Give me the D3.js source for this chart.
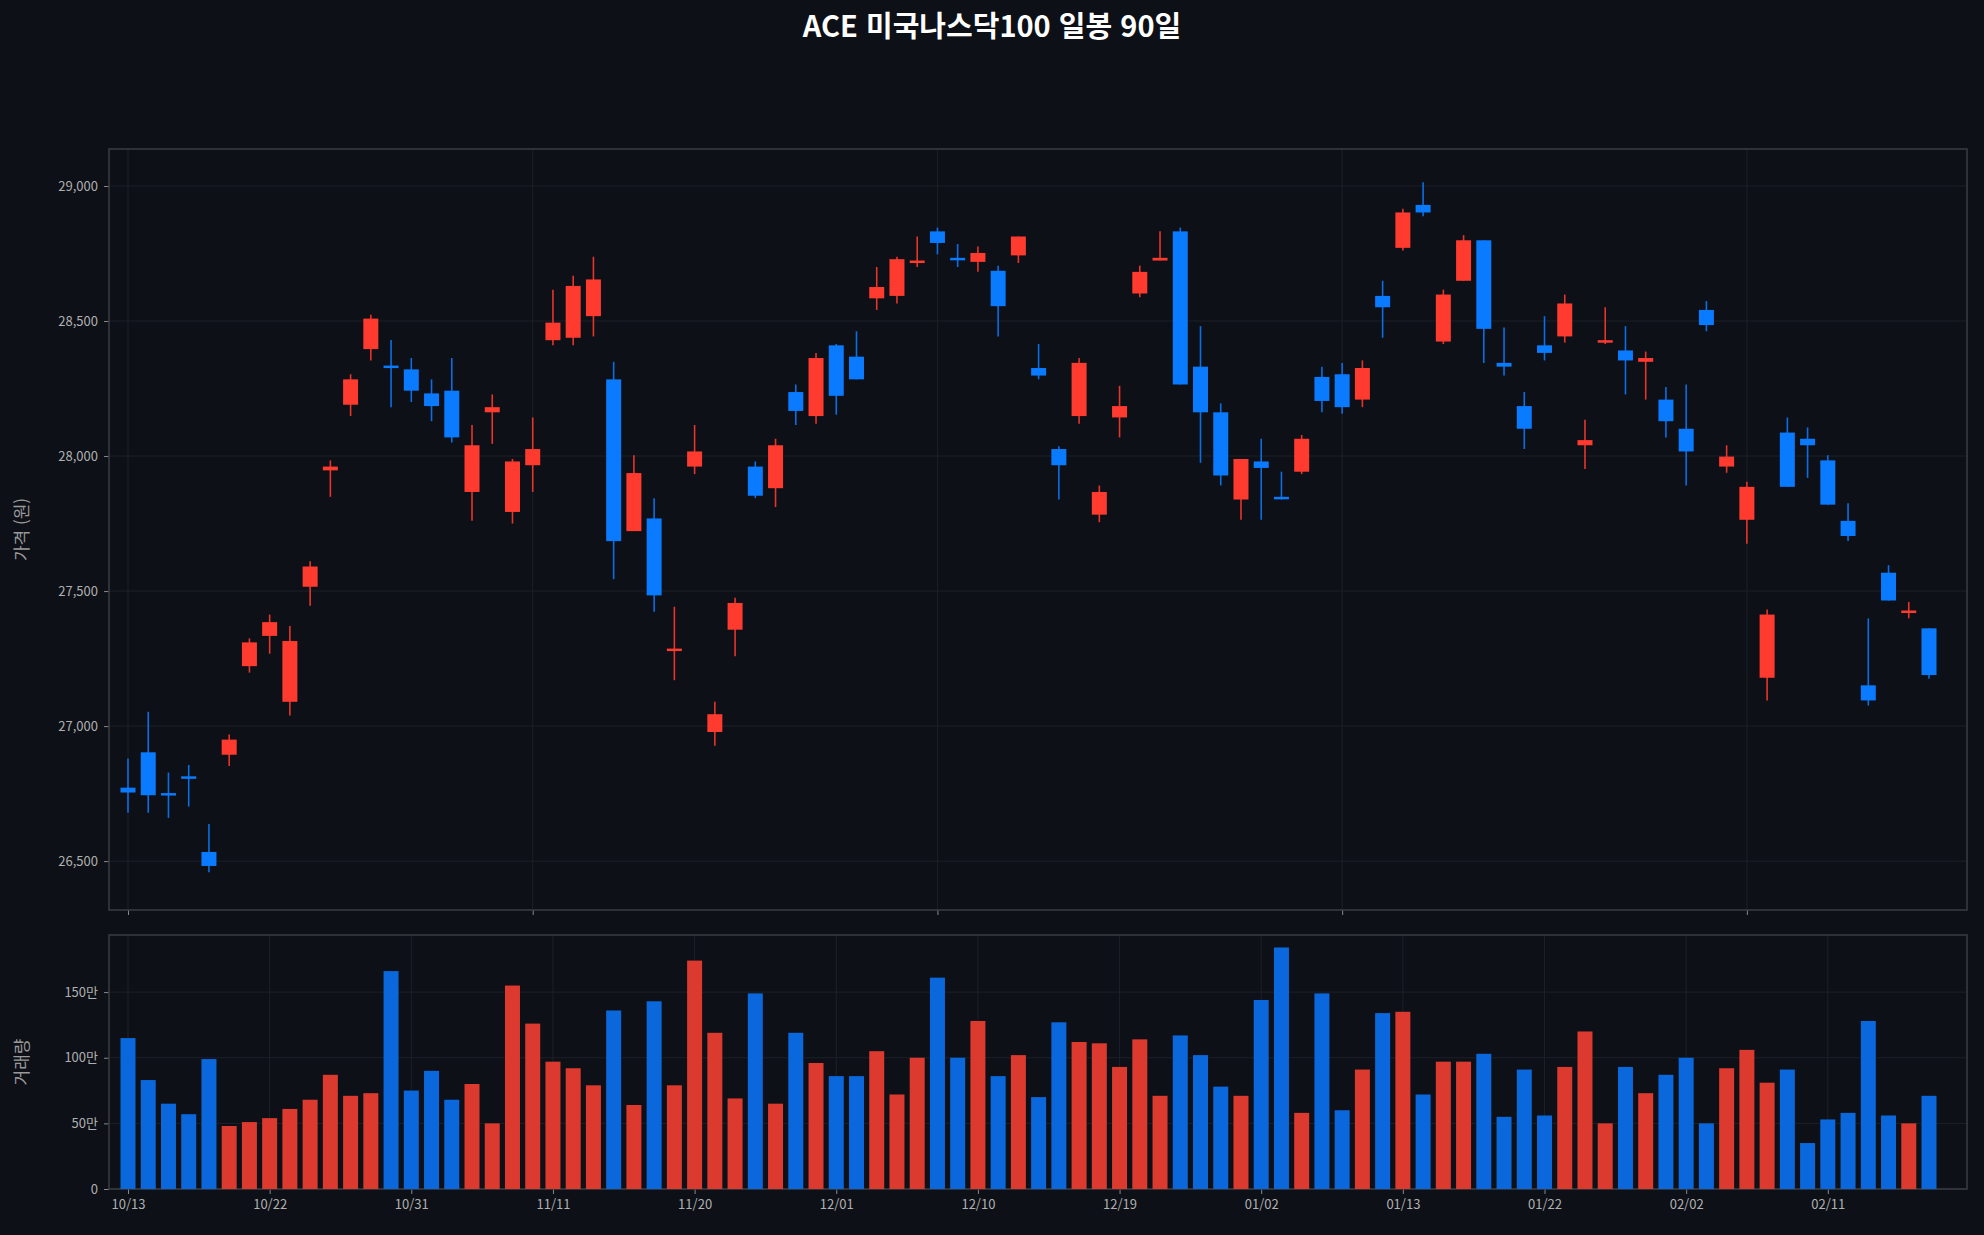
<!DOCTYPE html>
<html lang="ko">
<head>
<meta charset="UTF-8">
<title>ACE 미국나스닥100 일봉 90일</title>
<style>
  body { margin: 0; background: #0d1017; }
  svg { display: block; }
  text { font-family: "Noto Sans CJK KR", "Noto Sans", sans-serif; }
</style>
</head>
<body>
<svg width="1984" height="1235"></svg>
<script src="https://d3js.org/d3.v7.min.js"></script>
<script>
// 시가/고가/저가/종가 (원)
const open  = [26772,26903,26752,26814,26534,26894,27222,27334,27090,27516,27947,28190,28396,28335,28321,28232,28242,27867,28162,27793,
               27966,28429,28438,28518,28284,27722,27769,27282,27961,26978,27357,27961,27881,28237,28148,28410,28368,28584,28593,28720,
               28832,28734,28719,28686,28743,28326,28026,28148,27783,28143,28602,28724,28832,28331,28162,27839,27980,27849,27942,28293,
               28303,28209,28593,28771,28930,28424,28649,28799,28345,28185,28410,28443,28040,28424,28391,28349,28209,28101,28541,27961,
               27764,27179,28087,28064,27984,27760,27151,27568,27423,27362];
const high  = [26880,27053,26828,26856,26637,26969,27325,27413,27371,27610,27984,28303,28523,28430,28363,28284,28363,28115,28228,27989,
               28143,28616,28668,28738,28349,28003,27844,27442,28115,27090,27475,27980,28064,28265,28382,28415,28462,28700,28738,28813,
               28846,28785,28776,28705,28813,28415,28036,28363,27891,28260,28705,28832,28846,28481,28195,27989,28064,27942,28078,28331,
               28345,28354,28649,28916,29014,28616,28818,28799,28476,28237,28518,28598,28134,28551,28481,28387,28256,28265,28574,28040,
               27905,27432,28143,28106,28003,27825,27399,27596,27460,27362];
const low   = [26679,26679,26660,26702,26459,26852,27198,27268,27039,27446,27849,28148,28354,28181,28200,28129,28050,27760,28045,27750,
               27867,28410,28410,28443,27544,27722,27423,27170,27933,26927,27259,27844,27811,28115,28120,28153,28284,28541,28565,28700,
               28747,28700,28682,28443,28715,28284,27839,28120,27755,28069,28588,28724,28265,27975,27891,27764,27764,27839,27933,28162,
               28157,28181,28438,28761,28888,28415,28649,28345,28298,28026,28354,28420,27952,28415,28228,28209,28069,27891,28462,27938,
               27675,27095,27886,27919,27820,27685,27076,27465,27399,27175];
const close = [26754,26744,26748,26805,26482,26950,27310,27385,27315,27591,27961,28284,28509,28330,28242,28185,28069,28040,28181,27980,
               28026,28494,28630,28654,27685,27937,27484,27287,28017,27044,27456,27853,28040,28167,28363,28223,28284,28626,28729,28724,
               28789,28729,28752,28555,28813,28298,27966,28345,27867,28185,28682,28734,28265,28162,27928,27989,27956,27844,28064,28204,
               28181,28326,28551,28902,28902,28598,28799,28471,28331,28101,28382,28565,28059,28429,28354,28363,28129,28017,28485,27998,
               27886,27413,27886,28040,27820,27704,27095,27465,27428,27189];
// 거래량 (만 주)
const volume = [115,83,65,57,99,48,51,54,61,68,87,71,73,166,75,90,68,80,50,155,
                126,97,92,79,136,64,143,79,174,119,69,149,65,119,96,86,86,105,72,100,
                161,100,128,86,102,70,127,112,111,93,114,71,117,102,78,71,144,184,58,149,
                60,91,134,135,72,97,97,103,55,91,56,93,120,50,93,73,87,100,50,92,
                106,81,91,35,53,58,128,56,50,71];
const dateTickIdx = [0,7,14,21,28,35,42,49,56,63,70,77,84];
const dateTickLabels = ["10/13","10/22","10/31","11/11","11/20","12/01","12/10","12/19","01/02","01/13","01/22","02/02","02/11"];
const priceTicks = [26500,27000,27500,28000,28500,29000];
const volTicks = [0,50,100,150];

const UP = "#ff3b30", DOWN = "#0a7aff", UPV = "#dc3a2e", DOWNV = "#0a68dc";
const svg = d3.select("svg");
const L = 109, R = 1967;
const P = {top: 149, bottom: 910}, V = {top: 935, bottom: 1189};
const n = open.length;

const x = d3.scaleLinear().domain([0, n - 1]).range([128, 1929]);
const yP = d3.scaleLinear().domain([26319, 29137]).range([P.bottom, P.top]);
const yV = d3.scaleLinear().domain([0, 193.5]).range([V.bottom, V.top]);
const bw = 15;

svg.append("text").attr("x", 992).attr("y", 37).attr("text-anchor", "middle")
  .attr("fill", "#fff").attr("font-size", 29).attr("font-weight", "bold")
  .text("ACE 미국나스닥100 일봉 90일");

function panel(p, yScale, ticks, fmt, label, xTicks, xLabels) {
  const g = svg.append("g");
  g.append("rect").attr("x", L).attr("y", p.top).attr("width", R - L).attr("height", p.bottom - p.top)
    .attr("fill", "#0d1017");
  g.selectAll(".hg").data(ticks).join("line")
    .attr("x1", L).attr("x2", R).attr("y1", d => yScale(d)).attr("y2", d => yScale(d))
    .attr("stroke", "#1c2028").attr("stroke-width", 1);
  g.selectAll(".vg").data(xTicks).join("line")
    .attr("x1", d => x(d)).attr("x2", d => x(d)).attr("y1", p.top).attr("y2", p.bottom)
    .attr("stroke", "#1c2028").attr("stroke-width", 1);
  const ya = g.append("g").attr("transform", `translate(${L},0)`)
    .call(d3.axisLeft(yScale).tickValues(ticks).tickFormat(fmt).tickSize(5).tickPadding(6));
  const xa = g.append("g").attr("transform", `translate(0,${p.bottom})`)
    .call(d3.axisBottom(x).tickValues(xTicks).tickFormat((d, i) => xLabels ? xLabels[i] : "").tickSize(5).tickPadding(6));
  [ya, xa].forEach(a => {
    a.select(".domain").remove();
    a.selectAll("line").attr("stroke", "#888");
    a.selectAll("text").attr("fill", "#b0b0b0").attr("font-size", 13);
  });
  g.append("rect").attr("x", L).attr("y", p.top).attr("width", R - L).attr("height", p.bottom - p.top)
    .attr("fill", "none").attr("stroke", "#3a3d42").attr("stroke-width", 1.5);
  svg.append("text").attr("transform", `translate(28,${(p.top + p.bottom) / 2}) rotate(-90)`)
    .attr("text-anchor", "middle").attr("fill", "#9a9a9a").attr("font-size", 17).text(label);
  return g;
}

panel(P, yP, priceTicks, d3.format(","), "가격 (원)", [0,20,40,60,80], null);
panel(V, yV, volTicks.slice(1).concat([0]), d => d === 0 ? "0" : d + "만", "거래량", dateTickIdx, dateTickLabels);

const idx = d3.range(n);
const up = i => close[i] >= open[i];

const c = svg.append("g");
c.selectAll(".wick").data(idx).join("line")
  .attr("x1", i => x(i)).attr("x2", i => x(i))
  .attr("y1", i => yP(high[i])).attr("y2", i => yP(low[i]))
  .attr("stroke", i => up(i) ? "#e8342a" : "#0a6ee6").attr("stroke-width", 1.6);
c.selectAll(".body").data(idx).join("rect")
  .attr("x", i => x(i) - bw / 2).attr("width", bw)
  .attr("y", i => yP(Math.max(open[i], close[i])))
  .attr("height", i => Math.max(2.5, Math.abs(yP(open[i]) - yP(close[i]))))
  .attr("fill", i => up(i) ? UP : DOWN);

svg.append("g").selectAll("rect").data(idx).join("rect")
  .attr("x", i => x(i) - bw / 2).attr("width", bw)
  .attr("y", i => yV(volume[i])).attr("height", i => yV(0) - yV(volume[i]))
  .attr("fill", i => up(i) ? UPV : DOWNV);
</script>
</body>
</html>
